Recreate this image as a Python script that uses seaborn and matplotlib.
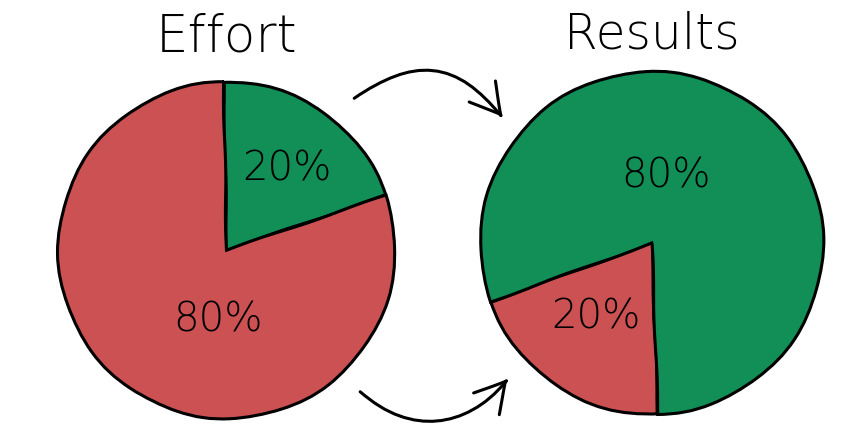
import matplotlib
matplotlib.use("Agg")
import matplotlib.pyplot as plt
import numpy as np
import seaborn as sns
from matplotlib.patches import FancyArrowPatch

# data
titles = ["Effort", "Results"]
effort_values = [20, 80]          # green (useful), red
results_values = [20, 80]         # red, green
effort_colors = ["#128E57", "#CB5152"]
results_colors = ["#CB5152", "#128E57"]
effort_labels = ["20%", "80%"]
results_labels = ["20%", "80%"]


def draw_pie(ax, values, colors, labels, start, label_pos):
    wedges, _ = ax.pie(values, colors=colors, startangle=start, counterclock=True,
                       wedgeprops=dict(edgecolor="black", linewidth=2.2))
    for (ang, r), lab in zip(label_pos, labels):
        t = np.deg2rad(ang)
        ax.text(r * np.cos(t), r * np.sin(t), lab, ha="center", va="center",
                fontsize=29, color="black", fontweight="light")
    ax.set_xlim(-1.02, 1.02)
    ax.set_ylim(-1.02, 1.02)
    ax.set_aspect("equal")
    ax.axis("off")


sns.set_style("white")
with plt.xkcd(scale=0.6, length=120, randomness=1.5):
    plt.rcParams["font.family"] = ["DejaVu Sans"]
    plt.rcParams["path.effects"] = []
    fig = plt.figure(figsize=(8.68, 4.42), dpi=100)

    ax1 = fig.add_axes([0.063, 0.045, 0.396, 0.778])
    draw_pie(ax1, effort_values, effort_colors, effort_labels, 19,
             [(53, 0.6), (263, 0.42)])
    ax1.set_title(titles[0], fontsize=37, pad=19, color="black", fontweight="light")

    ax2 = fig.add_axes([0.5495, 0.054, 0.403, 0.792])
    draw_pie(ax2, results_values, results_colors, results_labels, 200,
             [(233, 0.54), (78, 0.4)])
    ax2.set_title(titles[1], fontsize=35, pad=14, color="black", fontweight="light")

    head = "->,head_length=11,head_width=6"
    top = FancyArrowPatch((352 / 868, 1 - 100 / 442), (505 / 868, 1 - 120 / 442),
                          transform=fig.transFigure, connectionstyle="arc3,rad=-0.5",
                          arrowstyle=head, lw=2.2, color="black", mutation_scale=2)
    bottom = FancyArrowPatch((358 / 868, 1 - 390 / 442), (510 / 868, 1 - 376 / 442),
                             transform=fig.transFigure, connectionstyle="arc3,rad=0.5",
                             arrowstyle=head, lw=2.2, color="black", mutation_scale=2)
    fig.patches.extend([top, bottom])

    fig.savefig("out.png", dpi=100, facecolor="white")
